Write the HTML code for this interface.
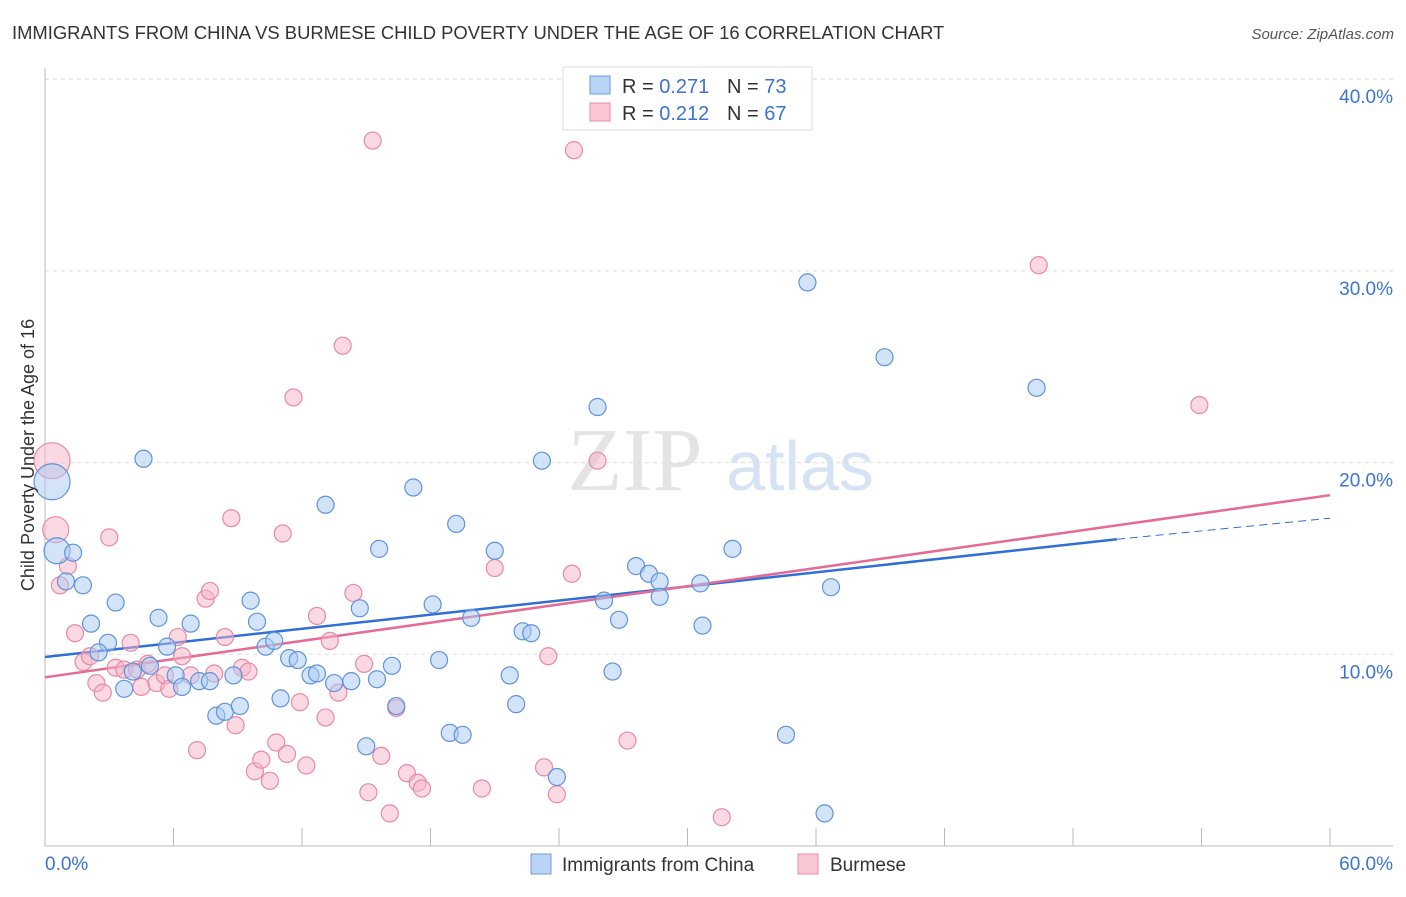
<!DOCTYPE html>
<html><head><meta charset="utf-8"><style>
body{margin:0;background:#fff;font-family:"Liberation Sans",sans-serif}
</style></head><body>
<svg id="chart" width="1406" height="892" xmlns="http://www.w3.org/2000/svg">
<text x="12" y="39" font-size="18.4" fill="#333">IMMIGRANTS FROM CHINA VS BURMESE CHILD POVERTY UNDER THE AGE OF 16 CORRELATION CHART</text>
<text x="1394" y="39" font-size="15" fill="#555" text-anchor="end" font-style="italic">Source: ZipAtlas.com</text>
<text x="635" y="490" font-size="90" fill="#e4e4e4" font-family="Liberation Serif" text-anchor="middle">ZIP</text>
<text x="800" y="490" font-size="70" fill="#d5e3f5" text-anchor="middle">atlas</text>
<g id="grid"></g><g id="axes"></g><g id="trend"></g><g id="pts"></g>
<text transform="translate(34,455) rotate(-90)" font-size="18" fill="#333" text-anchor="middle">Child Poverty Under the Age of 16</text>
<g>
<rect x="563" y="67" width="249" height="63" fill="#fff" stroke="#ddd"/>
<rect x="590" y="76" width="20" height="18" fill="#b9d4f5" stroke="#6a9be0"/>
<rect x="590" y="103" width="20" height="18" fill="#f9c6d4" stroke="#e88aa6"/>
<text x="622" y="93" font-size="20" fill="#333">R = <tspan fill="#3b74d1">0.271</tspan></text>
<text x="727" y="93" font-size="20" fill="#333">N = <tspan fill="#3b74d1">73</tspan></text>
<text x="622" y="120" font-size="20" fill="#333">R = <tspan fill="#3b74d1">0.212</tspan></text>
<text x="727" y="120" font-size="20" fill="#333">N = <tspan fill="#3b74d1">67</tspan></text>
</g>
<g>
<rect x="531" y="854" width="20" height="20" fill="#b9d4f5" stroke="#6a9be0"/>
<text x="562" y="871" font-size="19" fill="#333">Immigrants from China</text>
<rect x="798" y="854" width="20" height="20" fill="#f9c6d4" stroke="#e88aa6"/>
<text x="830" y="871" font-size="19" fill="#333">Burmese</text>
</g>
</svg>
<script>
const xTicks=[0,60];
const yTicks=[10,20,30,40];
const chinaX=[0.33,0.56,1.31,0.98,1.77,3.3,2.15,2.94,2.5,3.7,4.1,4.9,4.6,5.3,5.7,6.1,6.4,6.8,7.2,7.7,8.0,8.4,8.8,9.1,9.6,9.9,10.3,10.7,11.0,11.4,11.8,12.4,12.7,13.1,13.5,14.3,14.7,15.0,15.5,15.6,16.2,16.4,17.2,18.1,18.4,18.9,19.2,19.5,19.9,21.0,21.7,22.0,22.3,22.7,23.2,23.9,25.8,26.1,26.5,26.8,27.6,28.2,28.7,28.7,30.6,30.7,32.1,34.6,35.6,36.4,36.7,39.2,46.3];
const chinaY=[19.0,15.4,15.3,13.8,13.6,12.7,11.6,10.6,10.1,8.2,9.1,9.4,20.2,11.9,10.4,8.9,8.3,11.6,8.6,8.6,6.8,7.0,8.9,7.3,12.8,11.7,10.4,10.7,7.7,9.8,9.7,8.9,9.0,17.8,8.5,8.6,12.4,5.2,8.7,15.5,9.4,7.3,18.7,12.6,9.7,5.9,16.8,5.8,11.9,15.4,8.9,7.4,11.2,11.1,20.1,3.6,22.9,12.8,9.1,11.8,14.6,14.2,13.8,13.0,13.7,11.5,15.5,5.8,29.4,1.7,13.5,25.5,23.9];
const burmX=[0.33,0.5,1.07,0.7,1.4,1.8,2.1,2.4,2.7,3.0,3.3,3.7,4.0,4.3,4.5,4.8,5.2,5.6,5.8,6.2,6.4,6.8,7.1,7.5,7.7,7.9,8.4,8.7,8.9,9.2,9.5,9.8,10.1,10.5,10.8,11.1,11.3,11.6,11.9,12.2,12.7,13.1,13.3,13.7,13.9,14.4,14.9,15.1,15.3,15.7,16.1,16.4,16.9,17.4,17.6,20.4,21.0,23.3,23.5,23.9,24.6,24.7,25.8,27.2,31.6,46.4,53.9];
const burmY=[20.1,16.5,14.6,13.6,11.1,9.6,9.9,8.5,8.0,16.1,9.3,9.2,10.6,9.2,8.3,9.5,8.5,8.9,8.2,10.9,9.9,8.9,5.0,12.9,13.3,9.0,10.9,17.1,6.3,9.3,9.1,3.9,4.5,3.4,5.4,16.3,4.8,23.4,7.5,4.2,12.0,6.7,10.7,8.0,26.1,13.2,9.5,2.8,36.8,4.7,1.7,7.2,3.8,3.3,3.0,3.0,14.5,4.1,9.9,2.7,14.2,36.3,20.1,5.5,1.5,30.3,23.0];
const chinaTrend=[9.86,16.0,17.1];
const burmTrend=[8.8,18.3];
const NS="http://www.w3.org/2000/svg";
const X=v=>45+v/60*1285, Y=v=>846-v*19.17;
function mk(tag,attrs,parent){const e=document.createElementNS(NS,tag);for(const k in attrs)e.setAttribute(k,attrs[k]);document.getElementById(parent).appendChild(e);return e;}
const gridId="grid";
const topLine=mk('line',{x1:45,x2:1393,y1:79,y2:79,stroke:'#ddd','stroke-dasharray':'4,4'},gridId);


yTicks.forEach(t=>{
 const l=mk('line',{x1:45,x2:1393,y1:Y(t),y2:Y(t),stroke:'#ddd','stroke-dasharray':'4,4'},gridId);
 
 
 const tx=mk('text',{x:1393,y:Y(t)+24,'font-size':19,fill:'#3b74d1','text-anchor':'end'},gridId);
 tx.textContent=t.toFixed(1)+'%';
 
 
});
const ax=mk('path',{d:'M45,68V846H1393',stroke:'#bbb',fill:'none'},'axes');


for(let i=1;i<=10;i++){const tk=mk('line',{x1:X(i*6),x2:X(i*6),y1:828,y2:846,stroke:'#bbb'},'axes');
 
 }
xTicks.forEach((t,i)=>{const tx=mk('text',{x:i?1393:45,y:870,'font-size':19,fill:'#3b74d1','text-anchor':i?'end':'start'},'axes');
 tx.textContent=t.toFixed(1)+'%';
 
 });
const l1=mk('line',{x1:X(0),y1:Y(chinaTrend[0]),x2:X(50.05),y2:Y(chinaTrend[1]),stroke:'#2f6fd6','stroke-width':2.5},'trend');


const l2=mk('line',{x1:X(50.05),y1:Y(chinaTrend[1]),x2:X(60),y2:Y(chinaTrend[2]),stroke:'#2f6fd6','stroke-width':1,'stroke-dasharray':'8,5'},'trend');


const l3=mk('line',{x1:X(0),y1:Y(burmTrend[0]),x2:X(60),y2:Y(burmTrend[1]),stroke:'#e56b96','stroke-width':2.5},'trend');


function pts(xs,ys,fill,stroke,name){xs.forEach((x,i)=>{const r=i==0?18:(i==1?13:8.5);
 const c=mk('circle',{cx:X(x),cy:Y(ys[i]),r:r,fill:fill,'fill-opacity':0.5,stroke:stroke,'stroke-width':1.2},'pts');
 
 });}
pts(burmX,burmY,'#f5b3c7','#e88aa6','burmese-point');
pts(chinaX,chinaY,'#a9c9f2','#5f93dc','china-point');
</script>
</body></html>
